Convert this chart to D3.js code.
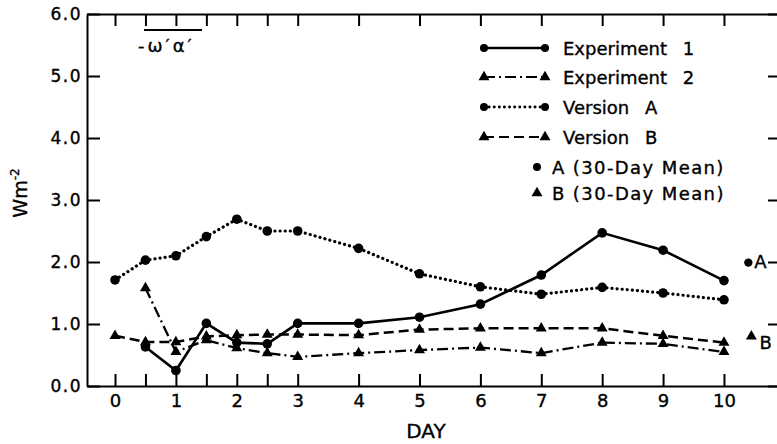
<!DOCTYPE html>
<html>
<head>
<meta charset="utf-8">
<script src="https://cdn.jsdelivr.net/npm/d3@7"></script>
<style>
  body { margin: 0; background: #fff; }
  text { font-family: 'DejaVu Sans', sans-serif; fill: #000; stroke: #000; stroke-width: 0.35px; }
  .axis path, .axis line { stroke: #000; stroke-width: 2; }
  .axis text { font-size: 17px; }
</style>
</head>
<body>
<div class="render"></div>
<script>
"use strict";

var expDays = [0.5, 1, 1.5, 2, 2.5, 3, 4, 5, 6, 7, 8, 9, 10];
var verDays = [0, 0.5, 1, 1.5, 2, 2.5, 3, 4, 5, 6, 7, 8, 9, 10];
var experiment1 = [0.63, 0.25, 1.01, 0.70, 0.68, 1.01, 1.01, 1.11, 1.32, 1.79, 2.47, 2.19, 1.70];
var experiment2 = [1.58, 0.55, 0.74, 0.61, 0.53, 0.47, 0.53, 0.58, 0.62, 0.53, 0.70, 0.68, 0.55];
var versionA = [1.71, 2.03, 2.10, 2.41, 2.69, 2.50, 2.50, 2.22, 1.81, 1.60, 1.48, 1.59, 1.50, 1.39];
var versionB = [0.81, 0.71, 0.71, 0.80, 0.82, 0.83, 0.83, 0.82, 0.91, 0.93, 0.93, 0.93, 0.81, 0.70];
var meanA = { day: 10.4, value: 1.99, label: 'A' };
var meanB = { day: 10.45, value: 0.80, label: 'B' };
var xTicks = [0, 0.5, 1, 1.5, 2, 2.5, 3, 4, 5, 6, 7, 8, 9, 10];
var yTicks = [0, 1, 2, 3, 4, 5, 6];
var legendNames = ['Experiment 1', 'Experiment 2', 'Version A', 'Version B', 'A (30-Day Mean)', 'B (30-Day Mean)'];

var w = 777;
var h = 444;

var xScale = d3.scaleLinear().domain([-0.46, 10.92]).range([87, 780]);
var yScale = d3.scaleLinear().domain([0, 6]).range([386, 14]);

var svg = d3.select('.render').append('svg').attr('width', w).attr('height', h);
svg.append('rect').attr('width', w).attr('height', h).attr('fill', '#fff');

// axes, ticks point inward
svg.append('g').attr('class', 'axis').attr('transform', 'translate(0,386)')
   .call(d3.axisBottom(xScale).tickValues(xTicks).tickSizeInner(-12).tickSizeOuter(0).tickPadding(8)
      .tickFormat(function (d) { return Number.isInteger(d) ? d : ''; }))
   .selectAll('text').style('font-size', '18px');
svg.append('g').attr('class', 'axis').attr('transform', 'translate(0,14)')
   .call(d3.axisTop(xScale).tickValues(xTicks).tickSizeInner(-12).tickSizeOuter(0).tickFormat(''));
svg.append('g').attr('class', 'axis').attr('transform', 'translate(87,0)')
   .call(d3.axisLeft(yScale).tickValues(yTicks).tickSizeInner(-13).tickSizeOuter(0).tickPadding(5).tickFormat(d3.format('.1f')))
   .selectAll('text').style('letter-spacing', '1.5px');
svg.append('g').attr('class', 'axis').attr('transform', 'translate(780,0)')
   .call(d3.axisRight(yScale).tickValues(yTicks).tickSizeInner(-12).tickSizeOuter(0).tickFormat(''));

var styles = [
   { data: experiment1, days: expDays, dash: null, width: 2.6, marker: 'circle' },
   { data: experiment2, days: expDays, dash: '11,4,2,4', width: 2.3, marker: 'triangle' },
   { data: versionA, days: verDays, dash: '0.1,5', width: 3.2, marker: 'circle' },
   { data: versionB, days: verDays, dash: '10,5', width: 2.5, marker: 'triangle' }
];

var tri = d3.symbol().type(d3.symbolTriangle).size(52);

function drawMarker(g, type, x, y, r) {
   if (type === 'circle') {
      g.append('circle').attr('cx', x).attr('cy', y).attr('r', r || 4.8).attr('fill', '#000');
   } else {
      g.append('path').attr('d', tri).attr('transform', 'translate(' + x + ',' + y + ')').attr('fill', '#000');
   }
}

styles.forEach(function (s) {
   var pts = s.data.map(function (v, i) { return [s.days[i], v]; });
   var line = d3.line().x(function (d) { return xScale(d[0]); }).y(function (d) { return yScale(d[1]); });
   svg.append('path').attr('d', line(pts)).attr('fill', 'none').attr('stroke', '#000')
      .attr('stroke-width', s.width).attr('stroke-dasharray', s.dash).attr('stroke-linecap', s.dash === '0.1,5' ? 'round' : 'butt');
   var g = svg.append('g');
   pts.forEach(function (p) { drawMarker(g, s.marker, xScale(p[0]), yScale(p[1])); });
});

// 30-day means
var mg = svg.append('g');
drawMarker(mg, 'circle', xScale(meanA.day), yScale(meanA.value), 4.2);
drawMarker(mg, 'triangle', xScale(meanB.day), yScale(meanB.value));
svg.append('text').text(meanA.label).attr('x', xScale(meanA.day) + 6).attr('y', yScale(meanA.value) + 5).style('font-size', '18px');
svg.append('text').text(meanB.label).attr('x', xScale(meanB.day) + 8).attr('y', yScale(meanB.value) + 13).style('font-size', '18px');

// legend
var rowY = [48, 77, 107, 137, 167, 193];
legendNames.forEach(function (name, i) {
   var y = rowY[i];
   var g = svg.append('g');
   if (i < 4) {
      var s = styles[i];
      g.append('line').attr('x1', 484).attr('x2', 545).attr('y1', y).attr('y2', y).attr('stroke', '#000')
         .attr('stroke-width', s.width - 0.3).attr('stroke-dasharray', s.dash).attr('stroke-linecap', s.dash === '0.1,5' ? 'round' : 'butt');
      drawMarker(g, s.marker, 484, y, 4);
      drawMarker(g, s.marker, 545, y, 4);
      g.append('text').text(name).attr('x', 563).attr('y', y + 7).style('font-size', '18px').style('word-spacing', '10px');
   } else {
      drawMarker(g, i === 4 ? 'circle' : 'triangle', 537, y, 4);
      g.append('text').text(name).attr('x', 552).attr('y', y + 7).style('font-size', '18px').style('letter-spacing', '1.4px');
   }
});

// quantity label with overline
svg.append('line').attr('x1', 144).attr('x2', 202).attr('y1', 30).attr('y2', 30).attr('stroke', '#000').attr('stroke-width', 2);
svg.append('text').text('-ω′α′').attr('x', 138).attr('y', 52).style('font-size', '18px').style('letter-spacing', '3px');

// axis titles
var yt = svg.append('text').attr('transform', 'translate(27,193)rotate(-90)').attr('text-anchor', 'middle').style('font-size', '19px');
yt.append('tspan').text('Wm');
yt.append('tspan').text('-2').attr('dy', -8).style('font-size', '12px');
svg.append('text').text('DAY').attr('x', 426).attr('y', 438).attr('text-anchor', 'middle').style('font-size', '20px');
</script>
</body>
</html>
